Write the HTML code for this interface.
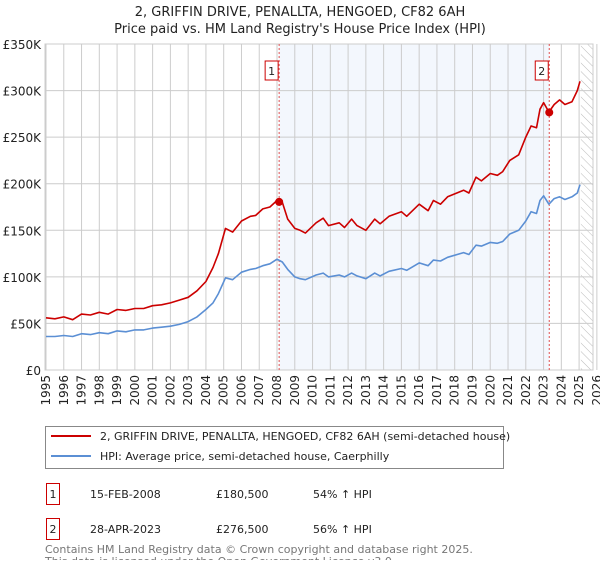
<!DOCTYPE html>
<html><head><meta charset="utf-8"><style>
body{margin:0;background:#fff;font-family:"DejaVu Sans","Liberation Sans",sans-serif;}
</style></head><body>
<svg id="chart" width="600" height="560" xmlns="http://www.w3.org/2000/svg" font-family="DejaVu Sans, Liberation Sans, sans-serif">
<text x="300" y="16" text-anchor="middle" font-size="13" fill="#222">2, GRIFFIN DRIVE, PENALLTA, HENGOED, CF82 6AH</text>
<text x="300" y="33" text-anchor="middle" font-size="13" fill="#222">Price paid vs. HM Land Registry's House Price Index (HPI)</text>
<g id="plot"></g>
<g>
<rect x="45.5" y="426.5" width="458" height="42" fill="#fff" stroke="#888"/>
<line x1="51" y1="436" x2="91" y2="436" stroke="#cc0000" stroke-width="2"/>
<text x="100" y="440" font-size="11" fill="#222">2, GRIFFIN DRIVE, PENALLTA, HENGOED, CF82 6AH (semi-detached house)</text>
<line x1="51" y1="456" x2="91" y2="456" stroke="#5b8fd4" stroke-width="2"/>
<text x="100" y="460" font-size="11" fill="#222">HPI: Average price, semi-detached house, Caerphilly</text>
</g>
<g font-size="11" fill="#222">
<rect x="46.5" y="483.5" width="13" height="21" fill="#fff" stroke="#cc0000"/>
<text x="53" y="498" text-anchor="middle">1</text>
<text x="90" y="498">15-FEB-2008</text><text x="216" y="498">£180,500</text><text x="313" y="498">54% ↑ HPI</text>
<rect x="46.5" y="518.5" width="13" height="21" fill="#fff" stroke="#cc0000"/>
<text x="53" y="533" text-anchor="middle">2</text>
<text x="90" y="533">28-APR-2023</text><text x="216" y="533">£276,500</text><text x="313" y="533">56% ↑ HPI</text>
</g>
<text font-size="11" fill="#777"><tspan x="45" y="553">Contains HM Land Registry data © Crown copyright and database right 2025.</tspan><tspan x="45" y="565">This data is licensed under the Open Government Licence v3.0.</tspan></text>
</svg>
<script>
const years=[1995,1995.5,1996,1996.5,1997,1997.5,1998,1998.5,1999,1999.5,2000,2000.5,2001,2001.5,2002,2002.5,2003,2003.5,2004,2004.4,2004.7,2005.1,2005.5,2006,2006.5,2006.8,2007.2,2007.6,2008,2008.3,2008.6,2009,2009.3,2009.6,2010.2,2010.6,2010.9,2011.5,2011.8,2012.2,2012.5,2013,2013.5,2013.8,2014.3,2015,2015.3,2016,2016.5,2016.8,2017.2,2017.6,2018.5,2018.8,2019.2,2019.5,2020,2020.4,2020.7,2021.1,2021.6,2022,2022.3,2022.6,2022.8,2023,2023.3,2023.6,2023.9,2024.2,2024.6,2024.9,2025.05];
const priceSeries=[56,55,57,54,60,59,62,60,65,64,66,66,69,70,72,75,78,85,95,110,125,152,148,160,165,166,173,175,182,180,162,152,150,147,158,163,155,158,153,162,155,150,162,157,165,170,165,178,171,182,178,186,193,190,207,203,211,209,213,225,231,250,262,260,280,287,277,285,290,285,288,300,310];
const hpiSeries=[36,36,37,36,39,38,40,39,42,41,43,43,45,46,47,49,52,57,65,72,82,99,97,105,108,109,112,114,119,116,108,100,98,97,102,104,100,102,100,104,101,98,104,101,106,109,107,115,112,118,117,121,126,124,134,133,137,136,138,146,150,160,170,168,182,187,178,184,186,183,186,190,199];
const yTicks=[0,50,100,150,200,250,300,350];
const yTickLabels=["£0","£50K","£100K","£150K","£200K","£250K","£300K","£350K"];
const xTicks=[1995,1996,1997,1998,1999,2000,2001,2002,2003,2004,2005,2006,2007,2008,2009,2010,2011,2012,2013,2014,2015,2016,2017,2018,2019,2020,2021,2022,2023,2024,2025,2026];
const saleYears=[2008.12,2023.32];
const saleValues=[180.5,276.5];
const saleLabels=["1","2"];
const NS="http://www.w3.org/2000/svg";
const L=45,R=593,T=44,B=370;
function xs(v){return 46+(v-1995)*17.77;}
function ys(v){return B-v/350*(B-T);}
const g=document.getElementById('plot');
function mk(tag,attrs){const e=document.createElementNS(NS,tag);for(const k in attrs)e.setAttribute(k,attrs[k]);g.appendChild(e);return e;}
let e;
e=mk('rect',{x:L,y:T,width:R-L,height:B-T,fill:'#fff'});


e=mk('rect',{x:xs(saleYears[0]),y:T,width:xs(saleYears[1])-xs(saleYears[0]),height:B-T,fill:'#eef3fc',opacity:0.7});


const defs=document.createElementNS(NS,'defs');defs.innerHTML='<pattern id="hatch" width="6" height="6" patternUnits="userSpaceOnUse" patternTransform="rotate(-45)"><line x1="0" y1="0" x2="0" y2="6" stroke="#bbb" stroke-width="1"/></pattern>';g.appendChild(defs);
e=mk('rect',{x:xs(2025.1),y:T,width:R-xs(2025.1),height:B-T,fill:'url(#hatch)'});


yTicks.forEach((v,i)=>{
 e=mk('line',{x1:L,x2:R,y1:ys(v),y2:ys(v),stroke:'#ccc'});
 
 
 e=mk('text',{x:L-4,y:ys(v)+5,'text-anchor':'end','font-size':12,fill:'#222'});e.textContent=yTickLabels[i];
 
 
});
xTicks.forEach(v=>{
 e=mk('line',{x1:xs(v),x2:xs(v),y1:T,y2:B,stroke:'#ccc'});
 
 
 e=mk('text',{x:xs(v)+4,y:B+5,'text-anchor':'end','font-size':12,fill:'#222',transform:`rotate(-90 ${xs(v)+4} ${B+5})`});e.textContent=v;
 
 
});
e=mk('rect',{x:L,y:T,width:R-L,height:B-T,fill:'none',stroke:'#ccc'});


saleYears.forEach((v,i)=>{
 e=mk('line',{x1:xs(v),x2:xs(v),y1:T,y2:B,stroke:'#e05050','stroke-dasharray':'2,2'});
 
 
 e=mk('rect',{x:xs(v)-14,y:T+17,width:13,height:19,fill:'#fff',stroke:'#cc0000'});
 
 
 e=mk('text',{x:xs(v)-7.5,y:T+31,'text-anchor':'middle','font-size':11,fill:'#222'});e.textContent=saleLabels[i];
 
 
});
function path(arr,col,name){
 const d=arr.map((v,i)=>(i?'L':'M')+xs(years[i]).toFixed(1)+','+ys(v).toFixed(1)).join('');
 e=mk('path',{d:d,fill:'none',stroke:col,'stroke-width':1.6,'stroke-linejoin':'round'});
 
 
}
path(hpiSeries,'#5b8fd4','hpi-line');
path(priceSeries,'#cc0000','price-line');
saleYears.forEach((v,i)=>{
 e=mk('circle',{cx:xs(v),cy:ys(saleValues[i]),r:4,fill:'#cc0000'});
 
 
});
</script>
</body></html>
